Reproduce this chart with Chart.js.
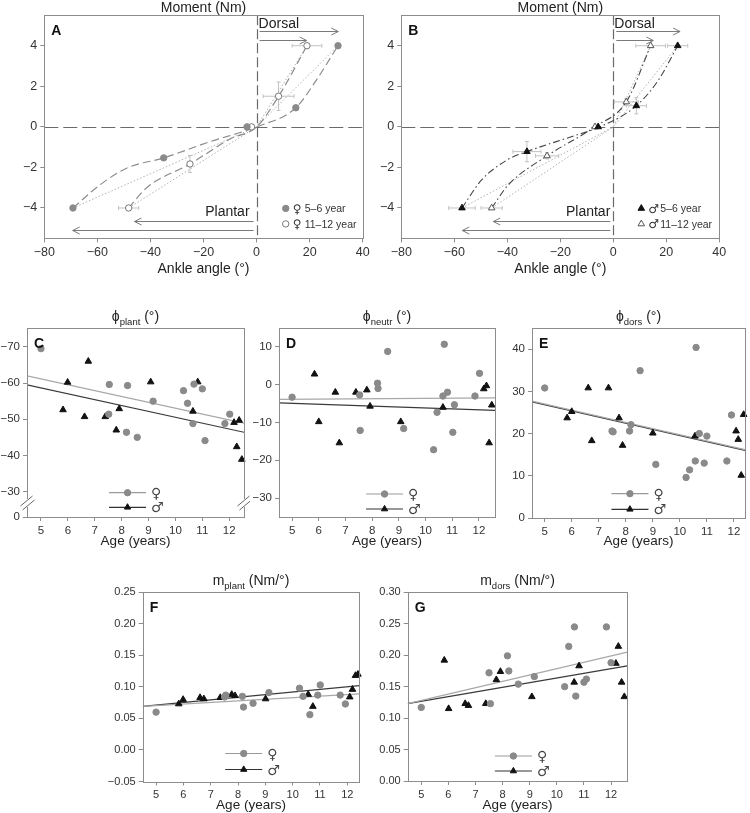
<!DOCTYPE html>
<html>
<head>
<meta charset="utf-8">
<script src="https://cdn.jsdelivr.net/npm/chart.js@4"></script>
<style>
  body { margin: 0; background: #fff; }
  #wrap { position: relative; width: 750px; height: 813px; overflow: hidden; }
  canvas { position: absolute; }
</style>
</head>
<body>
<div id="wrap"></div>
<script>
// ---- tick labels ----
const angleTicks = [-80, -60, -40, -20, 0, 20, 40];
const momentTicks = [-4, -2, 0, 2, 4];
const ageTicks = [5, 6, 7, 8, 9, 10, 11, 12];
const cTicks = [-70, -60, -50, -40, -30];
const cBreakValue = -23;          // bottom of the broken axis, labelled "0"
const dTicks = [10, 0, -10, -20, -30];
const eTicks = [0, 10, 20, 30, 40];
const fTicks = [-0.05, 0, 0.05, 0.10, 0.15, 0.20, 0.25];
const gTicks = [0, 0.05, 0.10, 0.15, 0.20, 0.25, 0.30];

// ---- A: girls, ankle angle (deg) vs moment (Nm) ----
const aYoungF = [[-69.2, -4], [-35.0, -1.53], [-3.6, 0], [14.8, 0.94], [30.7, 4]];
const aOldF = [[-48.2, -4], [-25.1, -1.83], [-1.9, 0], [8.3, 1.51], [19.0, 4]];
const aOldFErrX = [3.8, 0, 0, 5.8, 5.6];
const aOldFErrY = [0, 0.42, 0, 0.7, 0];
const aYoungFCurve = [[-69.2, -4], [-59, -2.86], [-49, -2.04], [-35, -1.53], [-18, -0.75], [0, 0], [14.8, 0.94], [22.6, 2.32], [30.7, 4]];
const aOldFCurve = [[-48.2, -4], [-41.4, -3.0], [-25.1, -1.83], [-10, -0.6], [0, 0], [8.3, 1.51], [19.0, 4]];
const aYoungFLinear = [[-69.2, -4], [0, 0], [30.7, 4]];
const aOldFLinear = [[-48.2, -4], [0, 0], [19.0, 4]];
const aDorsal = [30.8, 18.9];
const aPlantar = [-46.0, -69.3];

// ---- B: boys ----
const bYoungM = [[-57.1, -4], [-32.6, -1.22], [-5.7, 0], [8.7, 1.04], [24.3, 4]];
const bYoungMErrX = [5.0, 5.3, 0, 3.8, 3.8];
const bYoungMErrY = [0, 0.5, 0, 0.4, 0];
const bOldM = [[-45.9, -4], [-25.0, -1.43], [-6.9, 0], [4.9, 1.23], [14.1, 4]];
const bOldMErrX = [4.0, 4.4, 0, 4.5, 5.6];
const bOldMErrY = [0, 0.15, 0, 0.15, 0];
const bYoungMCurve = [[-57.1, -4], [-49.7, -2.62], [-39.6, -1.6], [-32.6, -1.22], [-15, -0.45], [-5, 0], [8.7, 1.04], [17, 2.3], [24.3, 4]];
const bOldMCurve = [[-45.9, -4], [-39.6, -2.86], [-25.0, -1.43], [-7, 0], [4.9, 1.23], [14.1, 4]];
const bYoungMLinear = [[-57.1, -4], [0, 0], [24.3, 4]];
const bOldMLinear = [[-45.9, -4], [0, 0], [14.1, 4]];
const bDorsal = [25.2, 15.1];
const bPlantar = [-45.3, -57.0];

// ---- C: phi plant (deg) vs age ----
const cFemale = [[5.0, -69.5], [7.54, -59.6], [7.52, -51.4], [8.22, -59.3], [8.18, -46.4], [8.58, -45.0], [9.17, -55.0], [10.3, -57.9], [10.45, -54.4], [10.65, -48.8], [10.69, -59.7], [11.0, -58.4], [11.1, -44.1], [11.84, -48.8], [12.02, -51.4]];
const cMale = [[5.82, -52.6], [5.99, -60.2], [6.62, -50.7], [6.76, -66.0], [7.39, -50.7], [7.8, -47.0], [7.91, -52.9], [9.08, -60.3], [10.65, -52.2], [10.83, -60.3], [12.18, -49.1], [12.28, -42.4], [12.37, -49.7], [12.47, -38.9]];
const cFemaleFit = [[4.48, -62.0], [12.55, -48.9]];
const cMaleFit = [[4.48, -59.5], [12.55, -46.4]];

// ---- D: phi neutr ----
const dFemale = [[5.0, -3.3], [7.53, -2.7], [7.55, -12.1], [8.2, 0.4], [8.22, -1.0], [8.58, 8.8], [9.18, -11.6], [10.3, -17.2], [10.43, -7.3], [10.65, -3.0], [10.7, 10.7], [10.82, -2.0], [11.02, -12.6], [11.08, -5.3], [11.85, -3.0], [12.02, 3.0]];
const dMale = [[5.84, 2.8], [6.0, -9.8], [6.62, -2.0], [6.77, -15.4], [7.39, -2.0], [7.8, -1.4], [7.92, -5.7], [9.07, -9.8], [10.65, -6.0], [12.18, -1.1], [12.28, -0.3], [12.38, -15.4], [12.48, -5.4]];
const dFemaleFit = [[4.51, -3.9], [12.6, -3.5]];
const dMaleFit = [[4.51, -4.8], [12.6, -6.8]];

// ---- E: phi dors ----
const eFemale = [[5.0, 30.8], [7.49, 20.6], [7.53, 20.4], [8.14, 20.6], [8.19, 22.1], [8.53, 34.9], [9.11, 12.7], [10.23, 9.6], [10.36, 11.4], [10.57, 13.5], [10.6, 40.4], [10.72, 20.0], [10.9, 13.0], [11.0, 19.4], [11.74, 13.5], [11.91, 24.4]];
const eMale = [[5.83, 23.7], [6.0, 25.2], [6.61, 30.8], [6.74, 18.3], [7.36, 30.8], [7.75, 23.7], [7.88, 17.2], [9.0, 20.1], [10.56, 19.4], [12.08, 20.6], [12.16, 18.6], [12.27, 10.1], [12.36, 24.5]];
const eFemaleFit = [[4.53, 27.7], [12.41, 16.2]];
const eMaleFit = [[4.53, 27.5], [12.41, 16.0]];

// ---- F: m plant (Nm/deg) ----
const fFemale = [[5.0, 0.060], [7.51, 0.084], [7.55, 0.087], [8.16, 0.085], [8.2, 0.068], [8.55, 0.074], [9.13, 0.091], [10.25, 0.098], [10.38, 0.085], [10.63, 0.056], [10.92, 0.087], [11.01, 0.103], [11.74, 0.087], [11.93, 0.073]];
const fMale = [[5.83, 0.073], [5.99, 0.080], [6.61, 0.083], [6.75, 0.081], [7.35, 0.083], [7.77, 0.088], [7.89, 0.086], [9.01, 0.081], [10.57, 0.088], [10.74, 0.069], [12.09, 0.084], [12.19, 0.096], [12.3, 0.118], [12.39, 0.120]];
const fFemaleFit = [[4.51, 0.069], [12.44, 0.089]];
const fMaleFit = [[4.51, 0.069], [12.44, 0.102]];

// ---- G: m dors ----
const gFemale = [[5.0, 0.117], [7.5, 0.172], [7.55, 0.123], [8.18, 0.199], [8.23, 0.175], [8.58, 0.154], [9.17, 0.166], [10.29, 0.150], [10.44, 0.214], [10.65, 0.245], [10.7, 0.135], [11.0, 0.157], [11.09, 0.162], [11.83, 0.245], [12.0, 0.188]];
const gMale = [[5.85, 0.192], [6.01, 0.115], [6.62, 0.123], [6.74, 0.120], [7.38, 0.123], [7.77, 0.161], [7.92, 0.174], [9.08, 0.134], [10.64, 0.157], [10.82, 0.183], [12.18, 0.187], [12.27, 0.214], [12.39, 0.157], [12.49, 0.134]];
const gFemaleFit = [[4.5, 0.123], [12.6, 0.205]];
const gMaleFit = [[4.5, 0.123], [12.6, 0.183]];

// ---- styling ----
const FONT = '"Liberation Sans", Arial, Helvetica, sans-serif';
const SYM = '"DejaVu Sans", sans-serif';
const FRAME = '#8c8c8c';
const GRAYPT = '#8a8a8a';
const TXT = '#222';
const minus = v => String(v).replace('-', '\u2212');
const wrap = document.getElementById('wrap');

function pts(a) { return a.map(p => ({ x: p[0], y: p[1] })); }

function axis(horizontal, s, size, fontSize) {
  return {
    type: 'linear', min: s.min, max: s.max, reverse: !!s.reverse,
    afterBuildTicks: sc => { sc.ticks = s.ticks.map(v => ({ value: v })); },
    afterFit: sc => {
      if (horizontal) { sc.height = size; sc.paddingLeft = 0; sc.paddingRight = 0; }
      else { sc.width = size; sc.paddingTop = 0; sc.paddingBottom = 0; }
    },
    grid: { drawOnChartArea: false, drawTicks: true, tickLength: 4, color: FRAME, tickColor: FRAME },
    border: { display: false },
    ticks: { color: '#333', font: { family: FONT, size: fontSize }, padding: 3, maxRotation: 0, autoSkip: false,
             callback: v => s.fmt(v) }
  };
}

function marker(ctx, style, x, y, r, fill, stroke) {
  ctx.beginPath();
  if (style === 'triangle') {
    for (let k = 0; k < 3; k++) {
      const a = k * 2 * Math.PI / 3;
      const px = x + Math.sin(a) * r, py = y - Math.cos(a) * r;
      k ? ctx.lineTo(px, py) : ctx.moveTo(px, py);
    }
    ctx.closePath();
  } else {
    ctx.arc(x, y, r, 0, Math.PI * 2);
  }
  ctx.fillStyle = fill; ctx.fill();
  ctx.strokeStyle = stroke; ctx.lineWidth = 1; ctx.stroke();
}

function drawTitle(ctx, segs, cx, baseY) {
  let total = 0;
  segs.forEach(s => { ctx.font = s[1] + 'px ' + FONT; total += ctx.measureText(s[0]).width; });
  let x = cx - total / 2;
  ctx.textAlign = 'left'; ctx.textBaseline = 'alphabetic'; ctx.fillStyle = TXT;
  segs.forEach(s => { ctx.font = s[1] + 'px ' + FONT; ctx.fillText(s[0], x, baseY + s[2]); x += ctx.measureText(s[0]).width; });
}

function makePanel(c) {
  const cv = document.createElement('canvas');
  cv.width = c.w; cv.height = c.h;
  cv.style.left = c.left + 'px'; cv.style.top = c.top + 'px';
  wrap.appendChild(cv);
  const a = c.area;
  return new Chart(cv, {
    type: 'scatter',
    data: { datasets: c.datasets },
    options: {
      responsive: false, animation: false, devicePixelRatio: 1,
      layout: { padding: { left: 0, top: a.t, right: c.w - a.r, bottom: 0 } },
      plugins: { legend: { display: false }, tooltip: { enabled: false } },
      scales: {
        x: axis(true, c.x, c.h - a.b, c.tickSize),
        y: axis(false, c.y, a.l, c.tickSize)
      }
    },
    plugins: [{
      id: 'decor' + c.letter,
      beforeDatasetsDraw(ch) { if (c.under) c.under(ch); },
      afterDraw(ch) {
        const ctx = ch.ctx, A = ch.chartArea;
        ctx.save();
        ctx.strokeStyle = FRAME; ctx.lineWidth = 1;
        const l = Math.round(A.left) + 0.5, t = Math.round(A.top) + 0.5;
        ctx.strokeRect(l, t, Math.round(A.right) - Math.round(A.left), Math.round(A.bottom) - Math.round(A.top));
        if (c.over) c.over(ch);
        ctx.fillStyle = '#111'; ctx.font = 'bold 14px ' + FONT;
        ctx.textAlign = 'left'; ctx.textBaseline = 'alphabetic';
        ctx.fillText(c.letter, A.left + 7, A.top + 19.5);
        drawTitle(ctx, c.title, (A.left + A.right) / 2, A.top - c.titleDy);
        ctx.font = c.xTitleSize + 'px ' + FONT; ctx.fillStyle = TXT; ctx.textAlign = 'center';
        ctx.fillText(c.xTitle, (A.left + A.right) / 2, A.bottom + c.xTitleDy);
        ctx.restore();
      }
    }]
  });
}

// ---- helpers for A / B ----
function zeroLines(ch) {
  const ctx = ch.ctx, A = ch.chartArea;
  const zx = Math.round(ch.scales.x.getPixelForValue(0)) + 0.5;
  const zy = Math.round(ch.scales.y.getPixelForValue(0)) + 0.5;
  ctx.save(); ctx.strokeStyle = '#6a6a6a'; ctx.lineWidth = 1.2;
  ctx.setLineDash([14, 5]);
  ctx.beginPath(); ctx.moveTo(A.left, zy); ctx.lineTo(A.right, zy); ctx.stroke();
  ctx.setLineDash([10, 4]);
  ctx.beginPath(); ctx.moveTo(zx, A.top); ctx.lineTo(zx, A.bottom); ctx.stroke();
  ctx.restore();
}

function errorBars(ch) {
  const ctx = ch.ctx, xs = ch.scales.x, ys = ch.scales.y;
  ctx.save(); ctx.strokeStyle = '#c2c2c2'; ctx.lineWidth = 1;
  ch.data.datasets.forEach(ds => {
    if (!ds.errX) return;
    ds.data.forEach((p, i) => {
      const ex = ds.errX[i], ey = ds.errY[i];
      const cx = xs.getPixelForValue(p.x), cy = ys.getPixelForValue(p.y);
      ctx.beginPath();
      if (ex) {
        const a = xs.getPixelForValue(p.x - ex), b = xs.getPixelForValue(p.x + ex);
        ctx.moveTo(a, cy); ctx.lineTo(b, cy);
        ctx.moveTo(a, cy - 2); ctx.lineTo(a, cy + 2); ctx.moveTo(b, cy - 2); ctx.lineTo(b, cy + 2);
      }
      if (ey) {
        const a = ys.getPixelForValue(p.y - ey), b = ys.getPixelForValue(p.y + ey);
        ctx.moveTo(cx, a); ctx.lineTo(cx, b);
        ctx.moveTo(cx - 2, a); ctx.lineTo(cx + 2, a); ctx.moveTo(cx - 2, b); ctx.lineTo(cx + 2, b);
      }
      ctx.stroke();
    });
  });
  ctx.restore();
}

function arrow(ctx, x0, x1, y) {
  const d = x1 > x0 ? 1 : -1;
  ctx.beginPath();
  ctx.moveTo(x0, y); ctx.lineTo(x1, y);
  ctx.moveTo(x1 - d * 7, y - 3.5); ctx.lineTo(x1, y); ctx.lineTo(x1 - d * 7, y + 3.5);
  ctx.stroke();
}

function arrowsAndLabels(ch, dorsal, plantar, dorsalDx, plantarDx) {
  const ctx = ch.ctx, A = ch.chartArea, xs = ch.scales.x;
  const z = xs.getPixelForValue(0);
  ctx.save(); ctx.strokeStyle = '#7a7a7a'; ctx.lineWidth = 1;
  const dY = [A.top + 16, A.top + 24.5];
  const pY = [A.bottom - 17, A.bottom - 8.5];
  dorsal.forEach((v, i) => arrow(ctx, z + 3, xs.getPixelForValue(v), Math.round(dY[i]) + 0.5));
  plantar.forEach((v, i) => arrow(ctx, z - 3, xs.getPixelForValue(v), Math.round(pY[i]) + 0.5));
  ctx.fillStyle = TXT; ctx.font = '14px ' + FONT; ctx.textBaseline = 'alphabetic';
  ctx.textAlign = 'left'; ctx.fillText('Dorsal', z + dorsalDx, A.top + 13);
  ctx.textAlign = 'right'; ctx.fillText('Plantar', z - plantarDx, A.bottom - 22);
  ctx.restore();
}

function groupLegend(ch, rows, fromRight) {
  const ctx = ch.ctx, A = ch.chartArea;
  const mx = A.right - fromRight;
  ctx.save();
  rows.forEach((r, i) => {
    const y = A.bottom - (i === 0 ? 30 : 14.5);
    marker(ctx, r.style, mx, y, r.style === 'triangle' ? 3.8 : 3.2, r.fill, r.stroke);
    ctx.fillStyle = '#333'; ctx.textBaseline = 'alphabetic'; ctx.textAlign = 'left';
    ctx.font = '12px ' + SYM; ctx.fillText(r.sym, mx + 7, y + 4.5);
    ctx.font = '10.5px ' + FONT; ctx.fillText(r.text, mx + 19, y + 4);
  });
  ctx.restore();
}

// ---- helpers for C..G ----
function sexLegend(ch, frac, lift) {
  const ctx = ch.ctx, A = ch.chartArea;
  const x0 = A.left + frac * (A.right - A.left), x1 = x0 + 37, xm = (x0 + x1) / 2;
  const rows = [
    { y: A.bottom - lift[0], line: '#9a9a9a', style: 'circle', fill: GRAYPT, sym: '\u2640' },
    { y: A.bottom - lift[1], line: '#333', style: 'triangle', fill: '#111', sym: '\u2642' }
  ];
  ctx.save();
  rows.forEach(r => {
    ctx.strokeStyle = r.line; ctx.lineWidth = 1.2;
    ctx.beginPath(); ctx.moveTo(x0, r.y); ctx.lineTo(x1, r.y); ctx.stroke();
    marker(ctx, r.style, xm, r.y, r.style === 'triangle' ? 3.6 : 3.2, r.fill, r.fill);
    ctx.fillStyle = '#444'; ctx.font = '14px ' + SYM; ctx.textAlign = 'left'; ctx.textBaseline = 'alphabetic';
    ctx.fillText(r.sym, x1 + 5, r.y + 5);
  });
  ctx.restore();
}

function axisBreak(ch, value) {
  const ctx = ch.ctx, A = ch.chartArea;
  const y = ch.scales.y.getPixelForValue(value) - 14;
  ctx.save();
  [Math.round(A.left) + 0.5, Math.round(A.right) + 0.5].forEach(x => {
    ctx.fillStyle = '#fff'; ctx.fillRect(x - 2, y - 4, 4, 8);
    ctx.strokeStyle = '#666'; ctx.lineWidth = 1;
    ctx.beginPath();
    ctx.moveTo(x - 7, y + 3); ctx.lineTo(x + 5, y - 7);
    ctx.moveTo(x - 5, y + 7); ctx.lineTo(x + 7, y - 3);
    ctx.stroke();
  });
  ctx.restore();
}

function femaleSet(d) {
  return { data: pts(d), pointStyle: 'circle', pointRadius: 3.2, backgroundColor: GRAYPT, borderColor: GRAYPT, borderWidth: 1, showLine: false, clip: false };
}
function maleSet(d) {
  return { data: pts(d), pointStyle: 'triangle', pointRadius: 3.8, backgroundColor: '#111', borderColor: '#111', borderWidth: 1, showLine: false, clip: false };
}
function fitSet(d, color) {
  return { data: pts(d), showLine: true, pointRadius: 0, borderColor: color, borderWidth: 1.2, fill: false };
}
function curveSet(d, color, dash, width) {
  return { data: pts(d), showLine: true, pointRadius: 0, borderColor: color, borderWidth: width, borderDash: dash, cubicInterpolationMode: 'monotone', fill: false };
}

const angleAxis = { min: -80, max: 40, ticks: angleTicks, fmt: minus };
const momentAxis = { min: -5.5, max: 5.5, ticks: momentTicks, fmt: minus };
const phiTitle = sub => [['\u03D5', 14, 0], [sub, 9.5, 3.5], [' (\u00B0)', 14, 0]];
const mTitle = sub => [['m', 14, 0], [sub, 9.5, 3.5], [' (Nm/\u00B0)', 14, 0]];

// ---- panel A ----
makePanel({
  letter: 'A', left: 0, top: 0, w: 375, h: 285,
  area: { l: 44.3, t: 15.3, r: 362.7, b: 238.4 },
  x: angleAxis, y: momentAxis, tickSize: 12.5,
  title: [['Moment (Nm)', 14, 0]], titleDy: 3.5,
  xTitle: 'Ankle angle (\u00B0)', xTitleSize: 14, xTitleDy: 35,
  datasets: [
    Object.assign(femaleSet(aYoungF), { pointRadius: 3.2 }),
    { data: pts(aOldF), errX: aOldFErrX, errY: aOldFErrY, pointStyle: 'circle', pointRadius: 3.2, backgroundColor: '#fff', borderColor: '#777', borderWidth: 1, showLine: false, clip: false },
    curveSet(aYoungFCurve, '#8c8c8c', [8, 4], 1.2),
    curveSet(aOldFCurve, '#8c8c8c', [8, 4], 1.2),
    Object.assign(fitSet(aYoungFLinear, '#b0b0b0'), { borderDash: [1.5, 2], borderWidth: 1 }),
    Object.assign(fitSet(aOldFLinear, '#b0b0b0'), { borderDash: [1.5, 2], borderWidth: 1 })
  ],
  under: ch => { zeroLines(ch); errorBars(ch); },
  over: ch => {
    arrowsAndLabels(ch, aDorsal, aPlantar, 2, 7);
    groupLegend(ch, [
      { style: 'circle', fill: GRAYPT, stroke: GRAYPT, sym: '\u2640', text: '5\u20136 year' },
      { style: 'circle', fill: '#fff', stroke: '#777', sym: '\u2640', text: '11\u201312 year' }
    ], 77);
  }
});

// ---- panel B ----
makePanel({
  letter: 'B', left: 375, top: 0, w: 375, h: 285,
  area: { l: 26.3, t: 15.3, r: 344.3, b: 238.4 },
  x: angleAxis, y: momentAxis, tickSize: 12.5,
  title: [['Moment (Nm)', 14, 0]], titleDy: 3.5,
  xTitle: 'Ankle angle (\u00B0)', xTitleSize: 14, xTitleDy: 35,
  datasets: [
    { data: pts(bYoungM), errX: bYoungMErrX, errY: bYoungMErrY, pointStyle: 'triangle', pointRadius: 3.8, backgroundColor: '#111', borderColor: '#111', borderWidth: 1, showLine: false, clip: false },
    { data: pts(bOldM), errX: bOldMErrX, errY: bOldMErrY, pointStyle: 'triangle', pointRadius: 3.8, backgroundColor: '#fff', borderColor: '#555', borderWidth: 1, showLine: false, clip: false },
    curveSet(bYoungMCurve, '#444', [7, 3, 1.5, 3], 1.1),
    curveSet(bOldMCurve, '#444', [7, 3, 1.5, 3], 1.1),
    Object.assign(fitSet(bYoungMLinear, '#b0b0b0'), { borderDash: [1.5, 2], borderWidth: 1 }),
    Object.assign(fitSet(bOldMLinear, '#b0b0b0'), { borderDash: [1.5, 2], borderWidth: 1 })
  ],
  under: ch => { zeroLines(ch); errorBars(ch); },
  over: ch => {
    arrowsAndLabels(ch, bDorsal, bPlantar, 1, 3);
    groupLegend(ch, [
      { style: 'triangle', fill: '#111', stroke: '#111', sym: '\u2642', text: '5\u20136 year' },
      { style: 'triangle', fill: '#fff', stroke: '#555', sym: '\u2642', text: '11\u201312 year' }
    ], 78);
  }
});

// ---- panel C ----
makePanel({
  letter: 'C', left: 0, top: 290, w: 250, h: 260,
  area: { l: 27, t: 38, r: 244, b: 227 },
  x: { min: 4.48, max: 12.55, ticks: ageTicks, fmt: v => String(v) },
  y: { min: -75.2, max: cBreakValue, reverse: true, ticks: cTicks.concat([cBreakValue]),
       fmt: v => v === cBreakValue ? '0' : minus(v) },
  tickSize: 11.5,
  title: phiTitle('plant'), titleDy: 7,
  xTitle: 'Age (years)', xTitleSize: 13.5, xTitleDy: 28,
  datasets: [femaleSet(cFemale), maleSet(cMale), fitSet(cFemaleFit, '#a8a8a8'), fitSet(cMaleFit, '#3a3a3a')],
  over: ch => { axisBreak(ch, cBreakValue); sexLegend(ch, 0.378, [24.3, 9.7]); }
});

// ---- panel D ----
makePanel({
  letter: 'D', left: 250, top: 290, w: 250, h: 260,
  area: { l: 29, t: 38, r: 248, b: 227 },
  x: { min: 4.51, max: 12.6, ticks: ageTicks, fmt: v => String(v) },
  y: { min: -35, max: 15, ticks: dTicks, fmt: minus },
  tickSize: 11.5,
  title: phiTitle('neutr'), titleDy: 7,
  xTitle: 'Age (years)', xTitleSize: 13.5, xTitleDy: 28,
  datasets: [femaleSet(dFemale), maleSet(dMale), fitSet(dFemaleFit, '#a8a8a8'), fitSet(dMaleFit, '#3a3a3a')],
  over: ch => sexLegend(ch, 0.403, [23, 8])
});

// ---- panel E ----
makePanel({
  letter: 'E', left: 500, top: 290, w: 250, h: 260,
  area: { l: 32, t: 38, r: 248, b: 228 },
  x: { min: 4.53, max: 12.41, ticks: ageTicks, fmt: v => String(v) },
  y: { min: 0, max: 45, ticks: eTicks, fmt: minus },
  tickSize: 11.5,
  title: phiTitle('dors'), titleDy: 7,
  xTitle: 'Age (years)', xTitleSize: 13.5, xTitleDy: 27,
  datasets: [femaleSet(eFemale), maleSet(eMale), fitSet(eFemaleFit, '#a8a8a8'), fitSet(eMaleFit, '#3a3a3a')],
  over: ch => sexLegend(ch, 0.373, [24.3, 8.7])
});

// ---- panel F ----
makePanel({
  letter: 'F', left: 100, top: 555, w: 270, h: 258,
  area: { l: 42.7, t: 37.3, r: 259.3, b: 226.5 },
  x: { min: 4.51, max: 12.44, ticks: ageTicks, fmt: v => String(v) },
  y: { min: -0.05, max: 0.25, ticks: fTicks, fmt: v => minus(v.toFixed(2)) },
  tickSize: 11,
  title: mTitle('plant'), titleDy: 7,
  xTitle: 'Age (years)', xTitleSize: 13.5, xTitleDy: 27.5,
  datasets: [femaleSet(fFemale), maleSet(fMale), fitSet(fFemaleFit, '#a8a8a8'), fitSet(fMaleFit, '#3a3a3a')],
  over: ch => sexLegend(ch, 0.381, [28, 12])
});

// ---- panel G ----
makePanel({
  letter: 'G', left: 375, top: 555, w: 265, h: 258,
  area: { l: 32.7, t: 37.3, r: 252.3, b: 226 },
  x: { min: 4.5, max: 12.6, ticks: ageTicks, fmt: v => String(v) },
  y: { min: 0, max: 0.30, ticks: gTicks, fmt: v => minus(v.toFixed(2)) },
  tickSize: 11,
  title: mTitle('dors'), titleDy: 7,
  xTitle: 'Age (years)', xTitleSize: 13.5, xTitleDy: 27.5,
  datasets: [femaleSet(gFemale), maleSet(gMale), fitSet(gFemaleFit, '#a8a8a8'), fitSet(gMaleFit, '#3a3a3a')],
  over: ch => sexLegend(ch, 0.397, [25, 10])
});
</script>
</body>
</html>
